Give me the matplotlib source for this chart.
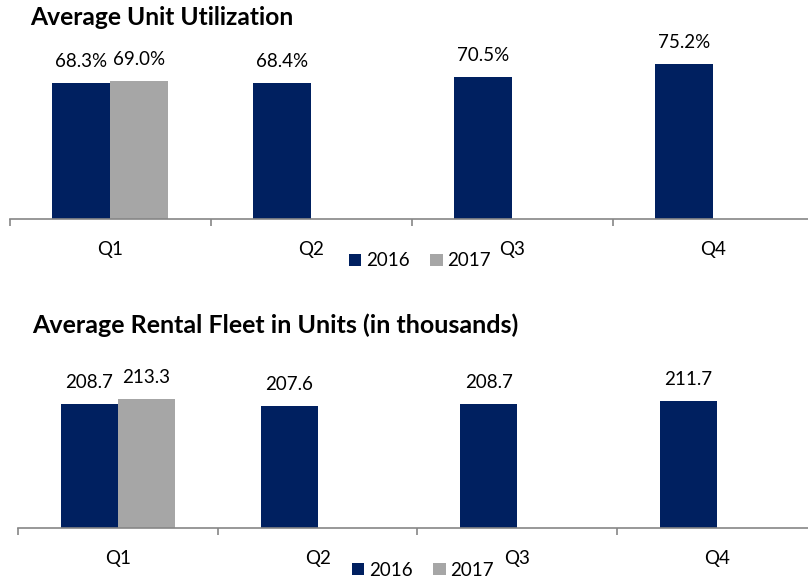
import matplotlib
matplotlib.use('Agg')
import matplotlib.pyplot as plt
import numpy as np

plt.rcParams['font.family'] = ['Lato', 'DejaVu Sans']

quarters = ['Q1', 'Q2', 'Q3', 'Q4']
util_2016 = [68.3, 68.4, 70.5, 75.2]
util_2017 = [69.0]
fleet_2016 = [208.7, 207.6, 208.7, 211.7]
fleet_2017 = [213.3]

NAVY = '#002060'
GREY = '#A6A6A6'
AXIS = '#868686'

W, H = 808, 578
fig = plt.figure(figsize=(W / 100, H / 100), dpi=100)


def px_axes(left, base, width, height):
    # rectangle in pixels from the top-left corner
    return fig.add_axes([left / W, (H - base) / H, width / W, height / H])


def draw_panel(ax, v16, v17, ymin, ymax, fmt, bw):
    x = np.arange(len(quarters))
    b1 = ax.bar(x - bw / 2, v16, bw, bottom=0, color=NAVY, label='2016')
    b2 = ax.bar(x[:len(v17)] + bw / 2, v17, bw, color=GREY, label='2017')
    for rect, v in list(zip(b1, v16)) + list(zip(b2, v17)):
        ax.annotate(fmt.format(v), (rect.get_x() + rect.get_width() / 2, v),
                    xytext=(0, 16), textcoords='offset pixels',
                    ha='center', va='baseline', fontsize=13.5)
    ax.set_xlim(-0.5, len(quarters) - 0.5)
    ax.set_ylim(ymin, ymax)
    ax.set_yticks([])
    for s in ['top', 'right', 'left']:
        ax.spines[s].set_visible(False)
    ax.spines['bottom'].set_color(AXIS)
    ax.spines['bottom'].set_linewidth(1.2)
    ax.set_xticks(np.arange(len(quarters) + 1) - 0.5)
    ax.set_xticklabels([])
    ax.tick_params(axis='x', which='major', direction='out', length=5,
                   width=1.2, color=AXIS)
    ax.set_xticks(x, minor=True)
    ax.set_xticklabels(quarters, minor=True, fontsize=13.5)
    ax.tick_params(axis='x', which='minor', length=0, pad=16)
    ax.patch.set_visible(False)
    return b1, b2


# top panel
ax1 = px_axes(9.5, 219, 804, 169)
h = draw_panel(ax1, util_2016, util_2017, 20, 80, '{:.1f}%', 0.289)
fig.text(30 / W, (H - 25) / H, 'Average Unit Utilization',
         fontsize=17.7, fontweight='bold', va='baseline')
fig.legend(h, ['2016', '2017'], loc='center', bbox_to_anchor=(420 / W, (H - 261) / H),
           ncol=2, frameon=False, fontsize=13.5, handlelength=0.65, handleheight=0.65,
           handletextpad=0.25, columnspacing=1.1, borderpad=0)

# bottom panel
ax2 = px_axes(18, 528, 799, 148)
h = draw_panel(ax2, fleet_2016, fleet_2017, 100, 230, '{:.1f}', 0.285)
fig.text(32 / W, (H - 333) / H, 'Average Rental Fleet in Units (in thousands)',
         fontsize=18, fontweight='bold', va='baseline')
fig.legend(h, ['2016', '2017'], loc='center', bbox_to_anchor=(423 / W, (H - 570) / H),
           ncol=2, frameon=False, fontsize=13.5, handlelength=0.65, handleheight=0.65,
           handletextpad=0.25, columnspacing=1.1, borderpad=0)

fig.savefig('out.png', dpi=100)
